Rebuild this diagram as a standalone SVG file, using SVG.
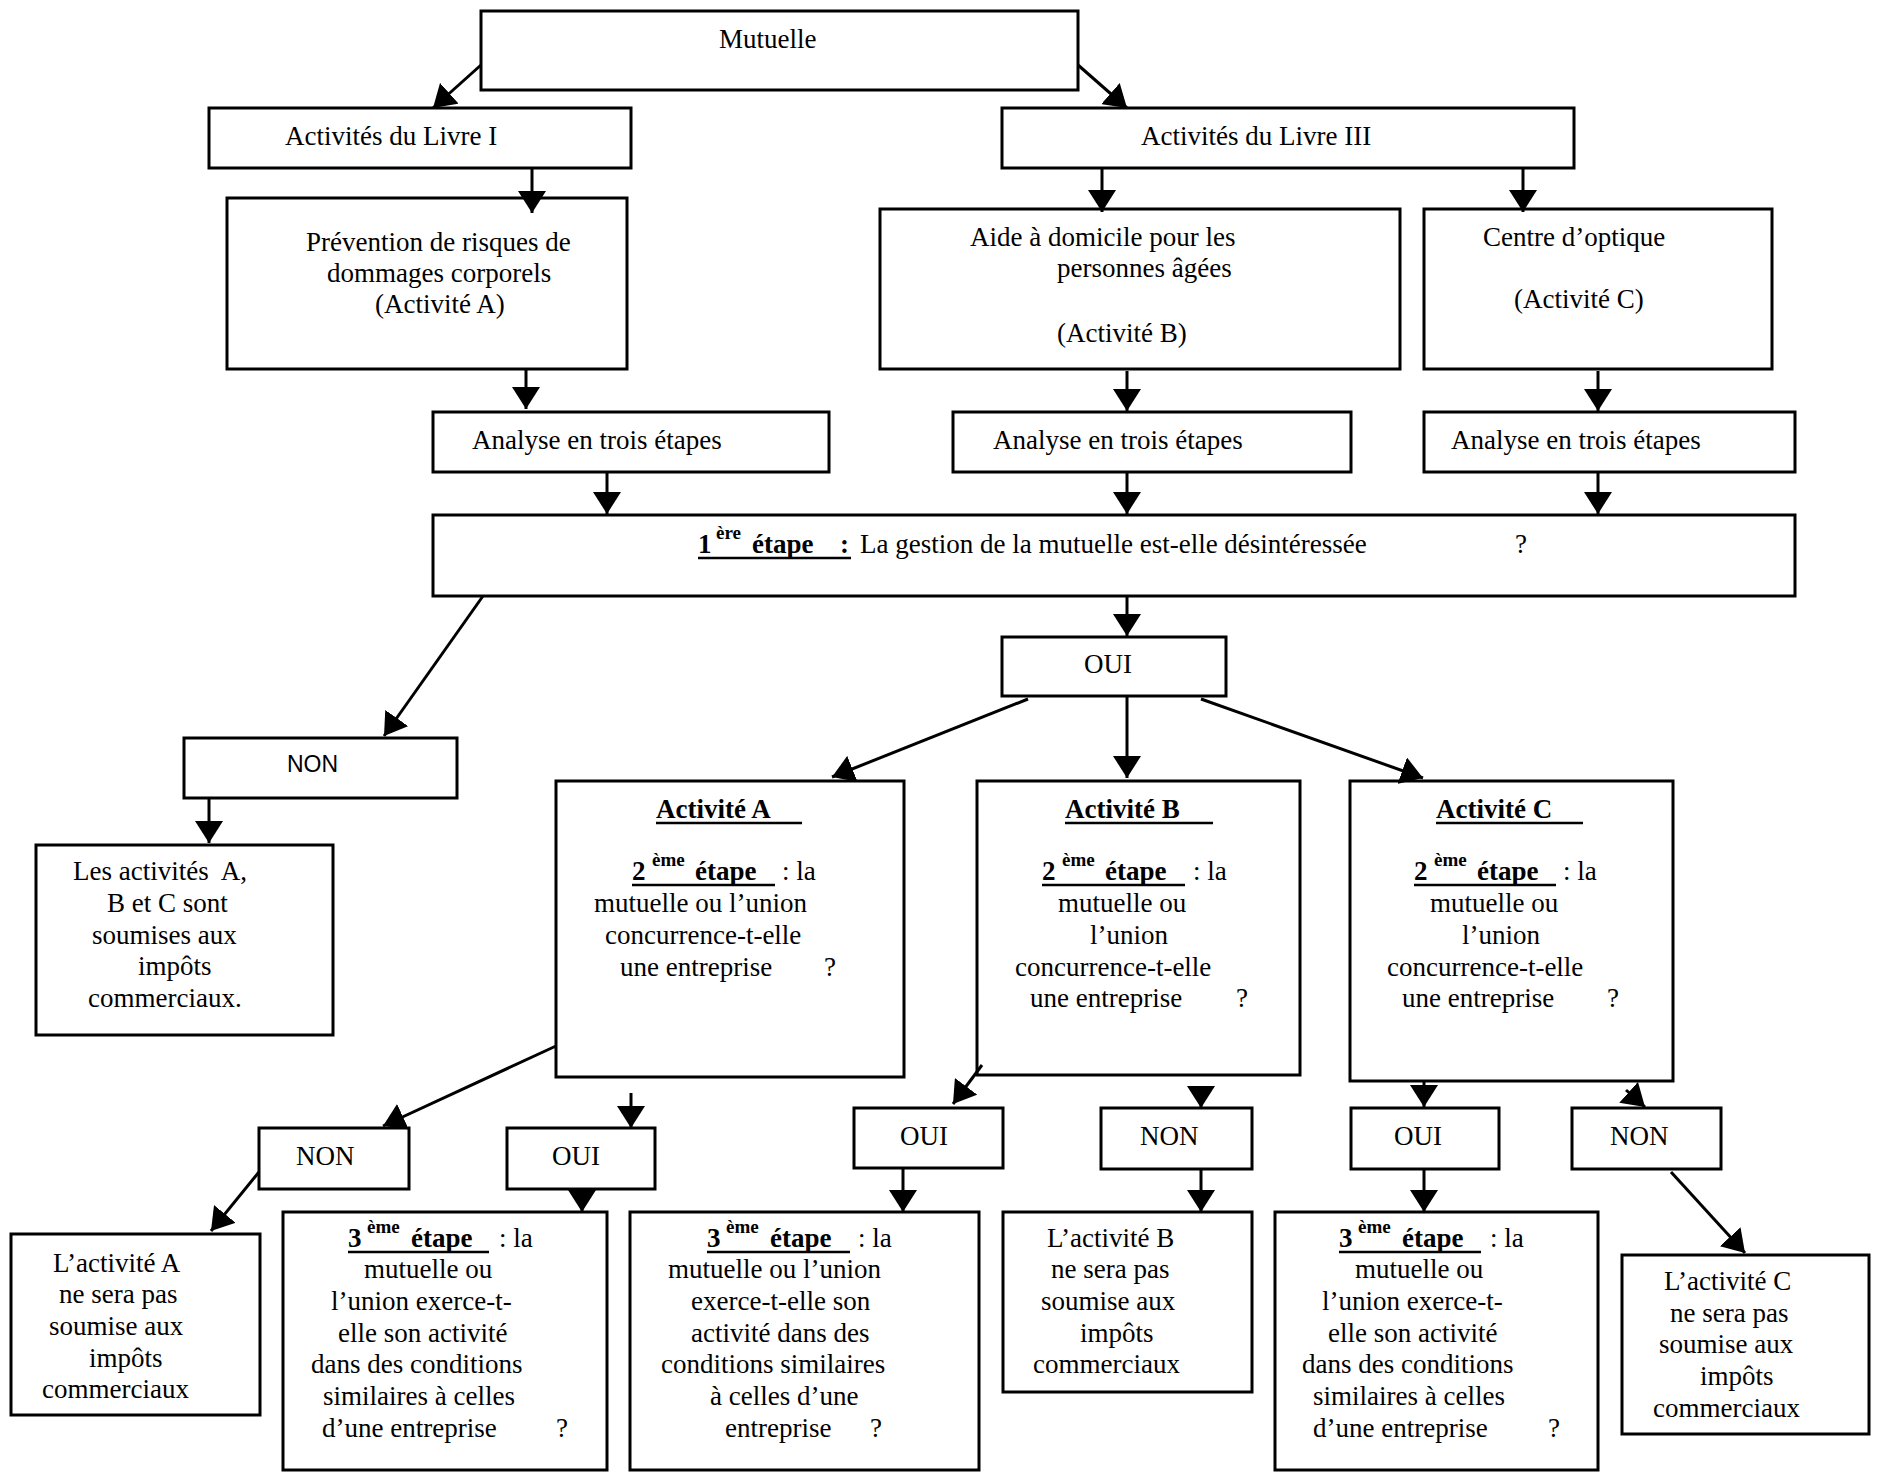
<svg xmlns="http://www.w3.org/2000/svg" width="1881" height="1481" viewBox="0 0 1881 1481">
<defs>
<style>
.box{fill:#fff;stroke:#000;stroke-width:3}
.t{font-family:"Liberation Serif","Times New Roman",serif;font-size:27px;fill:#000}
.b{font-weight:bold}
.sup{font-size:19px;font-weight:bold}
.s{font-family:"Liberation Sans",Arial,sans-serif;font-size:23px;fill:#000}
.ul{stroke:#000;stroke-width:2.5}
.c{stroke:#000;stroke-width:3;fill:none;marker-end:url(#ah)}
</style>
<marker id="ah" markerUnits="userSpaceOnUse" markerWidth="24" markerHeight="28" refX="22" refY="14" orient="auto">
<path d="M0,0 L22,14 L0,28 z" fill="#000"/>
</marker>
</defs>
<rect width="1881" height="1481" fill="#fff"/>

<g id="mutuelle"><rect class="box" x="481" y="11" width="597" height="79"/><text class="t" x="719" y="48">Mutuelle</text></g>
<g id="livre1"><rect class="box" x="209" y="108" width="422" height="60"/><text class="t" x="285" y="145">Activités du Livre I</text></g>
<g id="livre3"><rect class="box" x="1002" y="108" width="572" height="60"/><text class="t" x="1141" y="145">Activités du Livre III</text></g>
<g id="prevention"><rect class="box" x="227" y="198" width="400" height="171"/>
<text class="t" x="306" y="251">Prévention de risques de</text>
<text class="t" x="327" y="282">dommages corporels</text>
<text class="t" x="375" y="313">(Activité A)</text></g>
<g id="aide"><rect class="box" x="880" y="209" width="520" height="160"/>
<text class="t" x="970" y="246">Aide à domicile pour les</text>
<text class="t" x="1057" y="277">personnes âgées</text>
<text class="t" x="1057" y="342">(Activité B)</text></g>
<g id="centre"><rect class="box" x="1424" y="209" width="348" height="160"/>
<text class="t" x="1483" y="246">Centre d’optique</text>
<text class="t" x="1514" y="308">(Activité C)</text></g>
<g id="analyse1"><rect class="box" x="433" y="412" width="396" height="60"/><text class="t" x="472" y="449">Analyse en trois étapes</text></g>
<g id="analyse2"><rect class="box" x="953" y="412" width="398" height="60"/><text class="t" x="993" y="449">Analyse en trois étapes</text></g>
<g id="analyse3"><rect class="box" x="1424" y="412" width="371" height="60"/><text class="t" x="1451" y="449">Analyse en trois étapes</text></g>
<g id="etape1"><rect class="box" x="433" y="515" width="1362" height="81"/>
<text class="t" y="553"><tspan class="b" x="698">1</tspan><tspan class="sup" x="716" y="539">ère</tspan><tspan class="b" x="752" y="553">étape</tspan><tspan class="b" x="840">:</tspan><tspan x="860">La gestion de la mutuelle est-elle désintéressée</tspan><tspan x="1515">?</tspan></text>
<line class="ul" x1="698" y1="558" x2="851" y2="558"/></g>
<g id="oui0"><rect class="box" x="1002" y="637" width="224" height="59"/><text class="t" x="1084" y="673">OUI</text></g>
<g id="non0"><rect class="box" x="184" y="738" width="273" height="60"/><text class="s" x="287" y="772">NON</text></g>
<g id="lesactivites"><rect class="box" x="36" y="845" width="297" height="190"/>
<text class="t" x="73" y="880" xml:space="preserve">Les activités  A,</text>
<text class="t" x="107" y="912">B et C sont</text>
<text class="t" x="92" y="944">soumises aux</text>
<text class="t" x="138" y="975">impôts</text>
<text class="t" x="88" y="1007">commerciaux.</text></g>

<g id="activiteA"><rect class="box" x="556" y="781" width="348" height="296"/>
<text class="t b" x="656" y="818">Activité A</text><line class="ul" x1="656" y1="823" x2="802" y2="823"/>
<text class="t" y="880"><tspan class="b" x="632">2</tspan><tspan class="sup" x="652" y="866">ème</tspan><tspan class="b" x="695" y="880">étape</tspan><tspan x="782">: la</tspan></text><line class="ul" x1="632" y1="885" x2="775" y2="885"/>
<text class="t" x="594" y="912">mutuelle ou l’union</text>
<text class="t" x="605" y="944">concurrence-t-elle</text>
<text class="t" x="620" y="976">une entreprise</text><text class="t" x="824" y="976">?</text></g>

<g id="activiteB"><rect class="box" x="977" y="781" width="323" height="294"/>
<text class="t b" x="1065" y="818">Activité B</text><line class="ul" x1="1065" y1="823" x2="1213" y2="823"/>
<text class="t" y="880"><tspan class="b" x="1042">2</tspan><tspan class="sup" x="1062" y="866">ème</tspan><tspan class="b" x="1105" y="880">étape</tspan><tspan x="1193">: la</tspan></text><line class="ul" x1="1042" y1="885" x2="1185" y2="885"/>
<text class="t" x="1058" y="912">mutuelle ou</text>
<text class="t" x="1090" y="944">l’union</text>
<text class="t" x="1015" y="976">concurrence-t-elle</text>
<text class="t" x="1030" y="1007">une entreprise</text><text class="t" x="1236" y="1007">?</text></g>

<g id="activiteC"><rect class="box" x="1350" y="781" width="323" height="300"/>
<text class="t b" x="1436" y="818">Activité C</text><line class="ul" x1="1436" y1="823" x2="1583" y2="823"/>
<text class="t" y="880"><tspan class="b" x="1414">2</tspan><tspan class="sup" x="1434" y="866">ème</tspan><tspan class="b" x="1477" y="880">étape</tspan><tspan x="1563">: la</tspan></text><line class="ul" x1="1414" y1="885" x2="1556" y2="885"/>
<text class="t" x="1430" y="912">mutuelle ou</text>
<text class="t" x="1462" y="944">l’union</text>
<text class="t" x="1387" y="976">concurrence-t-elle</text>
<text class="t" x="1402" y="1007">une entreprise</text><text class="t" x="1607" y="1007">?</text></g>

<g id="nonA"><rect class="box" x="259" y="1128" width="150" height="61"/><text class="t" x="296" y="1165">NON</text></g>
<g id="ouiA"><rect class="box" x="507" y="1128" width="148" height="61"/><text class="t" x="552" y="1165">OUI</text></g>
<g id="ouiB"><rect class="box" x="854" y="1108" width="149" height="60"/><text class="t" x="900" y="1145">OUI</text></g>
<g id="nonB"><rect class="box" x="1101" y="1108" width="151" height="61"/><text class="t" x="1140" y="1145">NON</text></g>
<g id="ouiC"><rect class="box" x="1351" y="1108" width="148" height="61"/><text class="t" x="1394" y="1145">OUI</text></g>
<g id="nonC"><rect class="box" x="1572" y="1108" width="149" height="61"/><text class="t" x="1610" y="1145">NON</text></g>

<g id="lactiviteA"><rect class="box" x="11" y="1234" width="249" height="181"/>
<text class="t" x="53" y="1272">L’activité A</text>
<text class="t" x="59" y="1303">ne sera pas</text>
<text class="t" x="49" y="1335">soumise aux</text>
<text class="t" x="89" y="1367">impôts</text>
<text class="t" x="42" y="1398">commerciaux</text></g>

<g id="etape3A"><rect class="box" x="283" y="1212" width="324" height="258"/>
<text class="t" y="1247"><tspan class="b" x="348">3</tspan><tspan class="sup" x="367" y="1233">ème</tspan><tspan class="b" x="411" y="1247">étape</tspan><tspan x="499">: la</tspan></text><line class="ul" x1="348" y1="1252" x2="489" y2="1252"/>
<text class="t" x="364" y="1278">mutuelle ou</text>
<text class="t" x="331" y="1310">l’union exerce-t-</text>
<text class="t" x="338" y="1342">elle son activité</text>
<text class="t" x="311" y="1373">dans des conditions</text>
<text class="t" x="323" y="1405">similaires à celles</text>
<text class="t" x="322" y="1437">d’une entreprise</text><text class="t" x="556" y="1437">?</text></g>

<g id="etape3B"><rect class="box" x="630" y="1212" width="349" height="258"/>
<text class="t" y="1247"><tspan class="b" x="707">3</tspan><tspan class="sup" x="726" y="1233">ème</tspan><tspan class="b" x="770" y="1247">étape</tspan><tspan x="858">: la</tspan></text><line class="ul" x1="707" y1="1252" x2="850" y2="1252"/>
<text class="t" x="668" y="1278">mutuelle ou l’union</text>
<text class="t" x="691" y="1310">exerce-t-elle son</text>
<text class="t" x="691" y="1342">activité dans des</text>
<text class="t" x="661" y="1373">conditions similaires</text>
<text class="t" x="710" y="1405">à celles d’une</text>
<text class="t" x="725" y="1437">entreprise</text><text class="t" x="870" y="1437">?</text></g>

<g id="lactiviteB"><rect class="box" x="1003" y="1212" width="249" height="180"/>
<text class="t" x="1047" y="1247">L’activité B</text>
<text class="t" x="1051" y="1278">ne sera pas</text>
<text class="t" x="1041" y="1310">soumise aux</text>
<text class="t" x="1080" y="1342">impôts</text>
<text class="t" x="1033" y="1373">commerciaux</text></g>

<g id="etape3C"><rect class="box" x="1275" y="1212" width="323" height="258"/>
<text class="t" y="1247"><tspan class="b" x="1339">3</tspan><tspan class="sup" x="1358" y="1233">ème</tspan><tspan class="b" x="1402" y="1247">étape</tspan><tspan x="1490">: la</tspan></text><line class="ul" x1="1339" y1="1252" x2="1481" y2="1252"/>
<text class="t" x="1355" y="1278">mutuelle ou</text>
<text class="t" x="1322" y="1310">l’union exerce-t-</text>
<text class="t" x="1328" y="1342">elle son activité</text>
<text class="t" x="1302" y="1373">dans des conditions</text>
<text class="t" x="1313" y="1405">similaires à celles</text>
<text class="t" x="1313" y="1437">d’une entreprise</text><text class="t" x="1548" y="1437">?</text></g>

<g id="lactiviteC"><rect class="box" x="1622" y="1255" width="247" height="179"/>
<text class="t" x="1664" y="1290">L’activité C</text>
<text class="t" x="1670" y="1322">ne sera pas</text>
<text class="t" x="1659" y="1353">soumise aux</text>
<text class="t" x="1700" y="1385">impôts</text>
<text class="t" x="1653" y="1417">commerciaux</text></g>

<g id="connectors">
<line class="c" x1="481" y1="65" x2="433" y2="108"/>
<line class="c" x1="1078" y1="65" x2="1127" y2="108"/>
<line class="c" x1="532" y1="168" x2="532" y2="213"/>
<line class="c" x1="1102" y1="168" x2="1102" y2="212"/>
<line class="c" x1="1523" y1="168" x2="1523" y2="212"/>
<line class="c" x1="526" y1="369" x2="526" y2="409"/>
<line class="c" x1="1127" y1="371" x2="1127" y2="411"/>
<line class="c" x1="1598" y1="371" x2="1598" y2="411"/>
<line class="c" x1="607" y1="472" x2="607" y2="514"/>
<line class="c" x1="1127" y1="472" x2="1127" y2="514"/>
<line class="c" x1="1598" y1="472" x2="1598" y2="514"/>
<line class="c" x1="1127" y1="596" x2="1127" y2="636"/>
<line class="c" x1="483" y1="596" x2="384" y2="736"/>
<line class="c" x1="209" y1="798" x2="209" y2="843"/>
<line class="c" x1="1028" y1="699" x2="832" y2="777"/>
<line class="c" x1="1127" y1="696" x2="1127" y2="778"/>
<line class="c" x1="1201" y1="699" x2="1423" y2="778"/>
<line class="c" x1="556" y1="1046" x2="383" y2="1126"/>
<line class="c" x1="631" y1="1093" x2="631" y2="1128"/>
<line class="c" x1="259" y1="1172" x2="211" y2="1231"/>
<line class="c" x1="582" y1="1189" x2="582" y2="1212"/>
<line class="c" x1="982" y1="1065" x2="953" y2="1104"/>
<line class="c" x1="1201" y1="1086" x2="1201" y2="1108"/>
<line class="c" x1="1201" y1="1169" x2="1201" y2="1212"/>
<line class="c" x1="903" y1="1168" x2="903" y2="1212"/>
<line class="c" x1="1424" y1="1081" x2="1424" y2="1107"/>
<line class="c" x1="1424" y1="1169" x2="1424" y2="1212"/>
<line class="c" x1="1626" y1="1090" x2="1645" y2="1107"/>
<line class="c" x1="1671" y1="1172" x2="1745" y2="1253"/>
</g>
</svg>
